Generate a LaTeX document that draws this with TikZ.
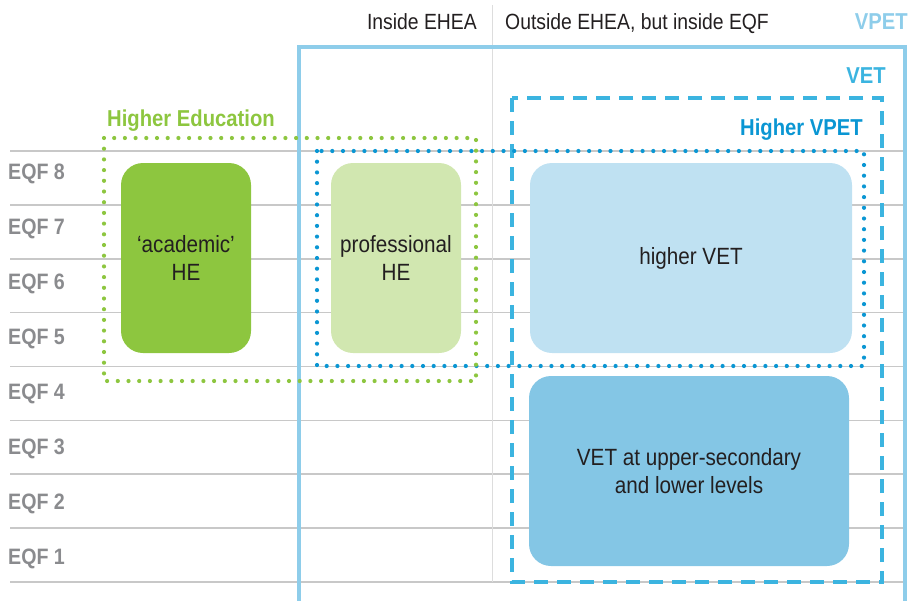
\documentclass[tikz,border=0pt]{standalone}
\usepackage{fontspec}
\setmainfont{Liberation Sans}[FakeStretch=0.88]
\definecolor{heGreen}{HTML}{8DC63F}
\definecolor{heLight}{HTML}{D1E7B0}
\definecolor{vetLight}{HTML}{BFE1F2}
\definecolor{vetMid}{HTML}{84C6E5}
\definecolor{vpetCol}{HTML}{8ECDEA}
\definecolor{vetCol}{HTML}{3BB4E0}
\definecolor{hvpetCol}{HTML}{0A96D3}
\definecolor{gridCol}{HTML}{C8C8C8}
\definecolor{sepCol}{HTML}{DDDDDD}
\definecolor{eqfCol}{HTML}{8A8B8E}
\definecolor{txtCol}{HTML}{231F20}
\tikzset{
  gridline/.style={draw=gridCol, line width=1.6pt},
  sepline/.style={draw=sepCol, line width=0.9pt},
  levelbox/.style={rectangle, rounded corners=22pt, inner sep=0pt, align=center,
    text=txtCol, font=\fontsize{23.5}{28}\selectfont},
  eqflabel/.style={anchor=base west, inner sep=0pt, text=eqfCol, font=\fontsize{22.3}{26}\selectfont\bfseries},
  headlabel/.style={inner sep=0pt, text=txtCol, font=\fontsize{22}{26}\selectfont},
  grouplabel/.style={inner sep=0pt, font=\fontsize{23}{26}\selectfont\bfseries},
  dotline/.style={line width=4.2pt, line cap=round, dash pattern=on 0pt off 10.7pt},
  dashline/.style={line width=4.5pt, dash pattern=on 14pt off 9pt},
}
\begin{document}
\begin{tikzpicture}[x=1pt,y=-1pt]
\useasboundingbox (0,0) rectangle (913,600);
% grid lines
\foreach \k in {0,...,8} {
  \coordinate (gl\k) at (10,151+53.875*\k);
  \coordinate (gr\k) at (903,151+53.875*\k);
  \draw[gridline] (gl\k) -- (gr\k);
}
% separator
\coordinate (sepT) at (492,5);
\coordinate (sepB) at (492,582);
\draw[sepline] (sepT) -- (sepB);
% EQF labels
\foreach \k in {1,...,8} {
  \node[eqflabel] (eqf\k) at (8,179+55*8-55*\k) {EQF \k};
}
% level boxes
\node[levelbox, fill=heGreen, minimum width=130pt, minimum height=190pt] (acad) at (186,258) {‘academic’\\HE};
\node[levelbox, fill=heLight, minimum width=130pt, minimum height=190pt] (prof) at (396,258) {professional\\HE};
\node[levelbox, fill=vetLight, minimum width=322pt, minimum height=190pt] (hvet) at (691,258) {higher VET};
\node[levelbox, fill=vetMid, minimum width=320pt, minimum height=190pt] (lvet) at (689,471) {VET at upper-secondary\\and lower levels};
% VPET frame
\coordinate (vpetA) at (299,47);
\coordinate (vpetB) at (905,606);
\draw[vpetCol, line width=4.6pt] (vpetA) rectangle (vpetB);
% VET dashed frame
\coordinate (vetA) at (512,98);
\coordinate (vetB) at (882,582);
\draw[vetCol, dashline] (vetA) rectangle (vetB);
% Higher VPET dotted frame
\coordinate (hvA) at (317,151);
\coordinate (hvB) at (864,366);
\draw[hvpetCol, dotline] (hvA) rectangle (hvB);
% Higher education dotted frame
\coordinate (heA) at (104,138);
\coordinate (heB) at (476,381);
\draw[heGreen, dotline] (heA) rectangle (heB);
% headers
\node[headlabel, anchor=base east] (inEHEA) at (477,29) {Inside EHEA};
\node[headlabel, anchor=base west] (outEHEA) at (505,29) {Outside EHEA, but inside EQF};
\node[grouplabel, text=vpetCol, anchor=base east] (vpetL) at (908,29) {VPET};
\node[grouplabel, text=vetCol, anchor=base east] (vetL) at (886,83) {VET};
\node[grouplabel, text=hvpetCol, anchor=base east] (hvpetL) at (863,135) {Higher VPET};
\node[grouplabel, text=heGreen, anchor=base west] (heL) at (107,126) {Higher Education};
\end{tikzpicture}
\end{document}
